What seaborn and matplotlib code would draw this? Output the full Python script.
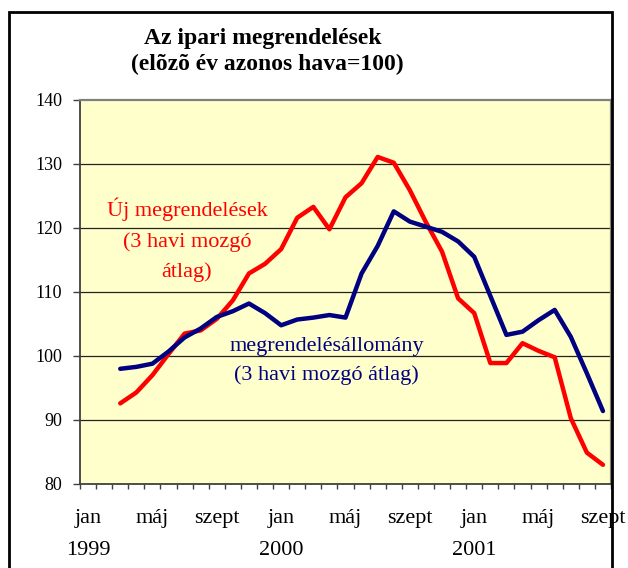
import numpy as np
import pandas as pd
import matplotlib
matplotlib.use("Agg")
import matplotlib.pyplot as plt
from matplotlib.patches import Rectangle
import seaborn as sns

# havi adatok, 1999 márc. - 2001 szept. (hónap index: 0 = 1999 jan)
month_idx = list(range(2, 33))
uj_megrendelesek = [92.6, 94.3, 97.0, 100.3, 103.5, 104.0, 105.8, 108.7, 112.9, 114.4,
                    116.7, 121.6, 123.3, 119.8, 124.8, 127.0, 131.1, 130.2, 125.9, 120.9,
                    116.3, 109.0, 106.7, 98.9, 98.9, 102.0, 100.8, 99.8, 90.3, 84.9, 83.0]
allomany = [98.0, 98.3, 98.8, 100.7, 102.9, 104.3, 106.1, 107.0, 108.2, 106.7,
            104.8, 105.7, 106.0, 106.4, 106.0, 112.9, 117.2, 122.6, 121.0, 120.2,
            119.4, 117.9, 115.5, 109.4, 103.3, 103.8, 105.6, 107.2, 103.0, 97.3, 91.4]

tick_pos = [0, 4, 8, 12, 16, 20, 24, 28, 32]
tick_labels = ["jan\n1999", "máj", "szept", "jan\n2000", "máj", "szept", "jan\n2001", "máj", "szept"]
y_ticks = [80, 90, 100, 110, 120, 130, 140]

df = pd.DataFrame({
    "honap": month_idx * 2,
    "ertek": uj_megrendelesek + allomany,
    "sor": ["uj"] * len(month_idx) + ["allomany"] * len(month_idx),
})

sns.set_theme(style="white")
plt.rcParams["font.family"] = ["Liberation Serif", "DejaVu Serif"]
plt.rcParams["text.color"] = "black"

fig = plt.figure(figsize=(6.28, 5.68), dpi=100)
ax = fig.add_axes([80 / 628, 84 / 568, 531 / 628, 384 / 568])
ax.set_facecolor("#FFFFCC")

sns.lineplot(data=df, x="honap", y="ertek", hue="sor",
             palette={"uj": "#FF0000", "allomany": "#000080"},
             linewidth=3.2, legend=False, ax=ax, zorder=3)

ax.set_xlim(-0.5, 32.5)
ax.set_ylim(80, 140)
ax.set_xlabel("")
ax.set_ylabel("")

# rácsvonalak
for v in y_ticks[1:-1]:
    ax.axhline(v, color="#222222", linewidth=0.9, zorder=1)

ax.set_yticks(y_ticks)
ax.set_yticklabels([str(v) for v in y_ticks], fontsize=13, color="black")
ax.tick_params(axis="y", which="major", left=True, direction="out", length=5,
               width=1, color="#404040", pad=8)

ax.set_xticks(np.arange(-0.5, 33, 1))
ax.set_xticklabels([])
ax.tick_params(axis="x", which="major", bottom=True, direction="out", length=3.6,
               width=1, color="#404040")
ax.set_xticks(tick_pos, tick_labels, minor=True)
ax.tick_params(axis="x", which="minor", bottom=True, length=0, pad=18, labelsize=16,
               labelcolor="black")
for lab in ax.get_xticklabels(minor=True):
    lab.set_linespacing(1.9)

for side in ["left", "bottom"]:
    ax.spines[side].set_color("#404040")
    ax.spines[side].set_linewidth(1.3)
for side in ["top", "right"]:
    ax.spines[side].set_color("#808080")
    ax.spines[side].set_linewidth(1.6)

# feliratok a vonalakhoz
for txt, y in zip(["Új megrendelések", "(3 havi mozgó", "átlag)"], [121.9, 117.1, 112.3]):
    ax.text(6.15, y, txt, color="#FF0000", fontsize=16, ha="center", va="baseline")
for txt, y in zip(["megrendelésállomány", "(3 havi mozgó átlag)"], [100.8, 96.25]):
    ax.text(14.84, y, txt, color="#000080", fontsize=16, ha="center", va="baseline")

fig.text(263 / 628, 1 - 44 / 568, "Az ipari megrendelések", ha="center", va="baseline",
         fontsize=17, fontweight="bold", color="black")
fig.text(267 / 628, 1 - 70 / 568, "(elõzõ év azonos hava=100)", ha="center", va="baseline",
         fontsize=17, fontweight="bold", color="black")

# külső keret
fig.patches.append(Rectangle((9 / 628, -0.1), 603 / 628, 1.1 - 12 / 568,
                             transform=fig.transFigure, fill=False,
                             edgecolor="black", linewidth=2, zorder=10))

fig.savefig("out.png", dpi=100)
